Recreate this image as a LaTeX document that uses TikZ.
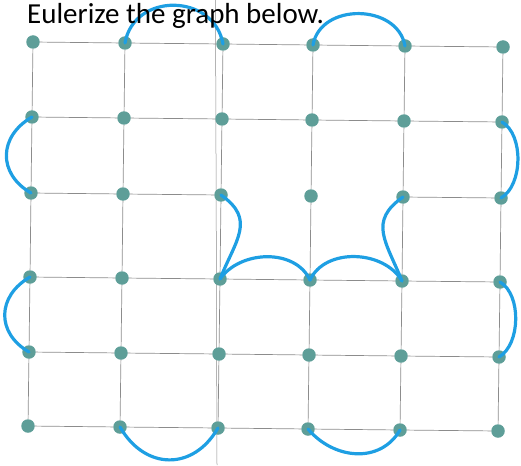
\documentclass[tikz,border=0pt]{standalone}
\usepackage{fontspec}
\setmainfont{Carlito}
\usetikzlibrary{positioning}
\definecolor{dotteal}{HTML}{5E9E98}
\definecolor{penblue}{HTML}{1E9FE3}
\definecolor{gridgray}{HTML}{8C8C8C}

\begin{document}
\begin{tikzpicture}[x=1pt, y=1pt,
  dot/.style={circle, fill=dotteal, inner sep=0pt, minimum size=13.5pt},
  ln/.style={draw=gridgray, line width=0.7pt},
  pen/.style={draw=penblue, line width=3.2pt, line cap=round},
  crease/.style={draw=black!45, line width=0.5pt}]
\useasboundingbox (0,0) rectangle (521,-465);
\draw[crease] (215.5,0) -- (217,-465);
% dots: column c, row r
\foreach \c/\x in {1/33,2/125,3/223,4/313,5/405,6/503}
  \foreach \r/\y in {1/42,2/117,3/193,4/277,5/352,6/426}
    \node[dot] (n-\c-\r) at ({\x-(\r-1)}, {-\y-(\c-1)}) {};
% grid edges
\foreach \r in {1,2,4,5,6}
  \draw[ln] (n-1-\r) -- (n-2-\r) -- (n-3-\r) -- (n-4-\r) -- (n-5-\r) -- (n-6-\r);
\draw[ln] (n-1-3) -- (n-2-3) -- (n-3-3);
\draw[ln] (n-5-3) -- (n-6-3);
\foreach \c in {1,...,6}
  \draw[ln] (n-\c-1) -- (n-\c-2) -- (n-\c-3) -- (n-\c-4) -- (n-\c-5) -- (n-\c-6);
% added edges
\draw[pen] (n-2-1.center) to[out=80, in=100, looseness=1.35] (n-3-1.center);
\draw[pen] (n-4-1.center) to[out=80, in=100, looseness=1.2] (n-5-1.center);
\draw[pen] (n-1-2.center) to[out=210, in=150, looseness=1.3] (n-1-3.center);
\draw[pen] (n-1-4.center) to[out=210, in=150, looseness=1.3] (n-1-5.center);
\draw[pen] (n-6-2.center) to[out=-30, in=30, looseness=0.85] (n-6-3.center);
\draw[pen] (n-6-4.center) to[out=-30, in=30, looseness=0.85] (n-6-5.center);
\draw[pen] (n-3-3.center) to[out=-35, in=68, looseness=1.3] (n-3-4.center);
\draw[pen] (n-3-4.center) to[out=55, in=115] (n-4-4.center);
\draw[pen] (n-4-4.center) to[out=65, in=120] (n-5-4.center);
\draw[pen] (n-5-3.center) to[out=215, in=112, looseness=1.3] (n-5-4.center);
\draw[pen] (n-2-6.center) to[out=-60, in=-120, looseness=1.3] (n-3-6.center);
\draw[pen] (n-4-6.center) to[out=-50, in=-120, looseness=1.1] (n-5-6.center);
\node[font=\fontsize{29}{32}\selectfont, anchor=base west, inner sep=0pt] (title) at (27,-24) {Eulerize the graph below.};
\end{tikzpicture}
\end{document}
